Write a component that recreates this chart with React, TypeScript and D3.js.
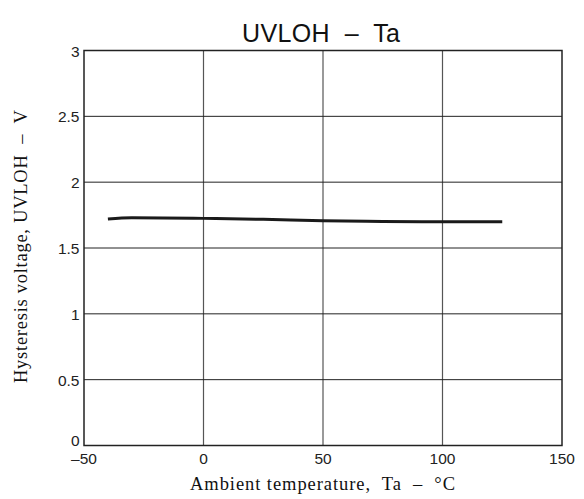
import { useEffect, useRef } from 'react';
import * as d3 from 'd3';

const temps = [-40, -30, 0, 25, 50, 75, 100, 125];
const uvloh = [1.72, 1.73, 1.725, 1.718, 1.707, 1.702, 1.70, 1.70];
const xTicks = [-50, 0, 50, 100, 150];
const yTicks = [0, 0.5, 1, 1.5, 2, 2.5, 3];
const xTickLabels = ['–50', '0', '50', '100', '150'];
const yTickLabels = ['0', '0.5', '1', '1.5', '2', '2.5', '3'];

export default function App() {
  const svgRef = useRef<SVGSVGElement>(null);

  useEffect(() => {
    if (!svgRef.current) return;
    const width = 584;
    const height = 499;
    const margin = { top: 50.5, right: 22, bottom: 53.5, left: 84 };

    const svg = d3.select(svgRef.current);
    svg.selectAll('*').remove();
    svg.attr('width', width).attr('height', height);

    const x = d3.scaleLinear().domain([-50, 150]).range([margin.left, width - margin.right]);
    const y = d3.scaleLinear().domain([0, 3]).range([height - margin.bottom, margin.top]);

    const sans = 'Liberation Sans, Arial, sans-serif';
    const serif = 'Liberation Serif, Times New Roman, serif';

    // grid
    const grid = svg.append('g');
    xTicks.slice(1, -1).forEach(t => {
      grid.append('line')
        .attr('x1', x(t)).attr('x2', x(t))
        .attr('y1', y(0)).attr('y2', y(3))
        .attr('stroke', '#555').attr('stroke-width', 1.2);
    });
    yTicks.slice(1, -1).forEach(t => {
      grid.append('line')
        .attr('x1', x(-50)).attr('x2', x(150))
        .attr('y1', y(t)).attr('y2', y(t))
        .attr('stroke', '#222').attr('stroke-width', 1);
    });

    svg.append('rect')
      .attr('x', x(-50)).attr('y', y(3))
      .attr('width', x(150) - x(-50)).attr('height', y(0) - y(3))
      .attr('fill', 'none').attr('stroke', '#222').attr('stroke-width', 1.5);

    // tick labels
    xTicks.forEach((t, i) => {
      svg.append('text')
        .attr('x', x(t)).attr('y', y(0) + 18)
        .attr('text-anchor', 'middle')
        .attr('font-family', sans).attr('font-size', 15.5).attr('fill', '#222')
        .text(xTickLabels[i]);
    });
    yTicks.forEach((t, i) => {
      // the bottom label sits on the axis rather than centred on it
      svg.append('text')
        .attr('x', x(-50) - 4.5).attr('y', y(t) + (t === 0 ? 0 : 6))
        .attr('text-anchor', 'end')
        .attr('font-family', sans).attr('font-size', 15.5).attr('fill', '#222')
        .text(yTickLabels[i]);
    });

    // curve
    const line = d3.line<number>()
      .x((_, i) => x(temps[i]))
      .y(d => y(d))
      .curve(d3.curveMonotoneX);
    svg.append('path')
      .datum(uvloh)
      .attr('d', line)
      .attr('fill', 'none')
      .attr('stroke', '#1a1a1a')
      .attr('stroke-width', 3);

    // titles
    svg.append('text')
      .attr('x', 321).attr('y', 41.7)
      .attr('text-anchor', 'middle')
      .attr('font-family', sans).attr('font-size', 25).attr('fill', '#111')
      .style('white-space', 'pre')
      .attr('textLength', 158).attr('lengthAdjust', 'spacing')
      .text('UVLOH  –  Ta');

    svg.append('text')
      .attr('x', 322.5).attr('y', 490)
      .attr('text-anchor', 'middle')
      .attr('font-family', serif).attr('font-size', 18.5).attr('fill', '#111')
      .style('white-space', 'pre')
      .attr('textLength', 265).attr('lengthAdjust', 'spacing')
      .text('Ambient temperature,  Ta  –  °C');

    svg.append('text')
      .attr('transform', `translate(27, 246.5) rotate(-90)`)
      .attr('text-anchor', 'middle')
      .attr('font-family', serif).attr('font-size', 18.5).attr('fill', '#111')
      .style('white-space', 'pre')
      .attr('textLength', 273).attr('lengthAdjust', 'spacing')
      .text('Hysteresis voltage, UVLOH  –  V');
  }, []);

  return (
    <div style={{ position: 'absolute', left: 0, top: 0, background: '#fff' }}>
      <svg ref={svgRef} style={{ display: 'block' }} />
    </div>
  );
}
